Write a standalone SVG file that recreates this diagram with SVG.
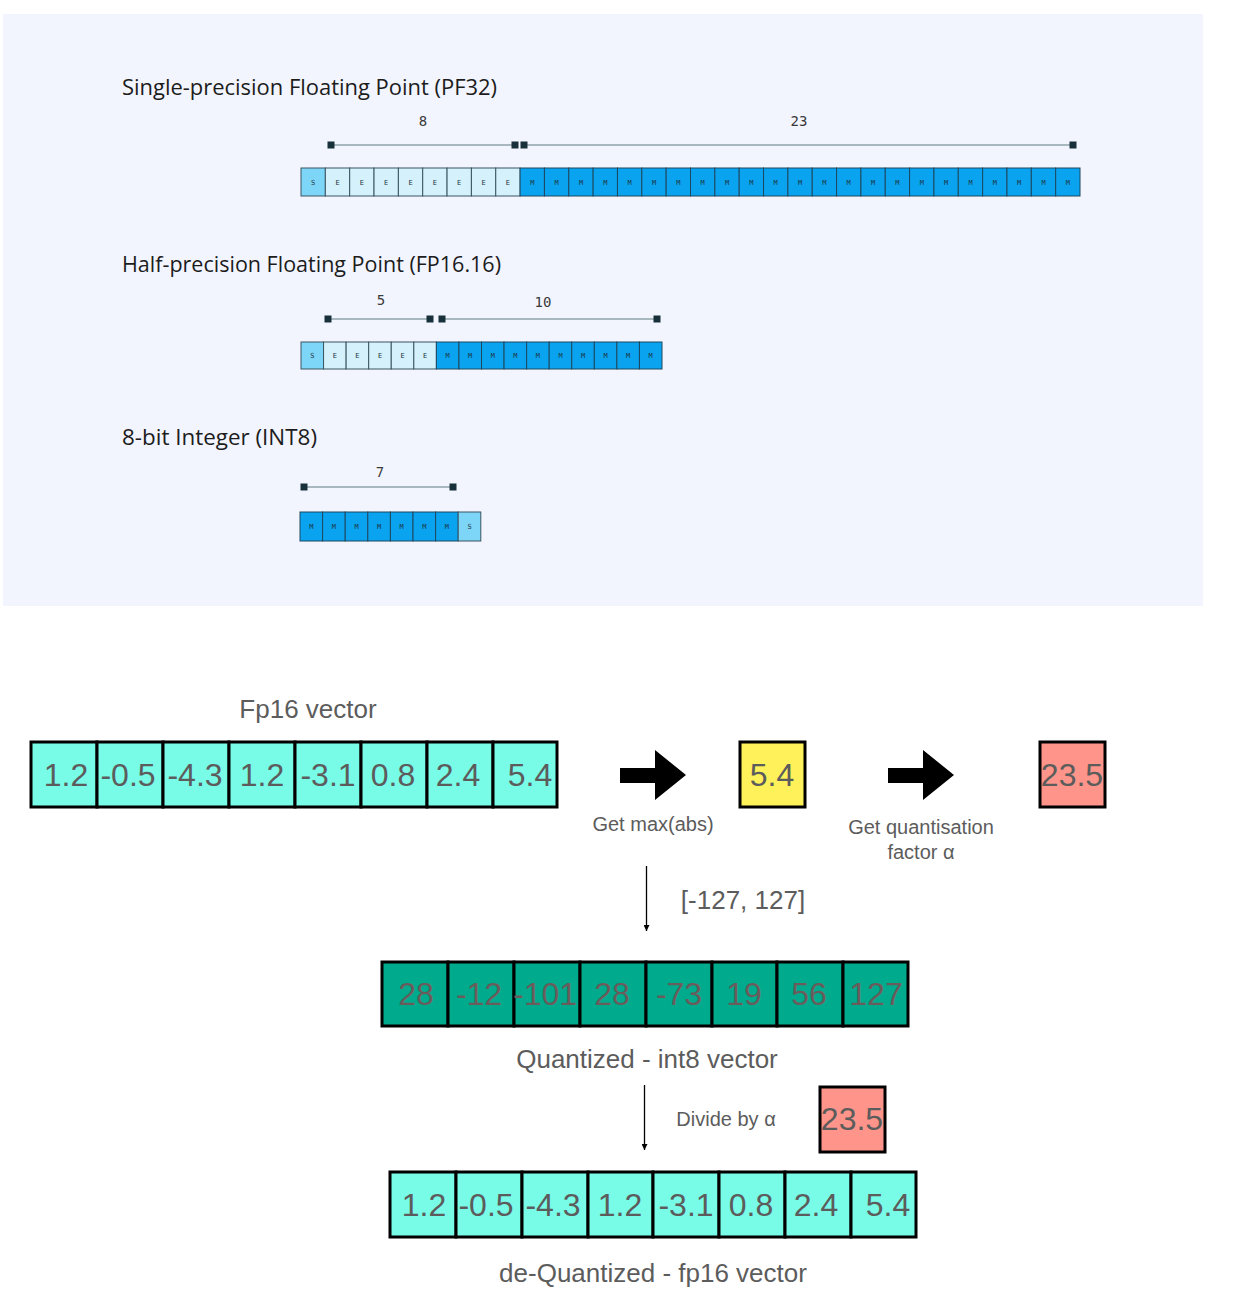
<svg xmlns="http://www.w3.org/2000/svg" width="1240" height="1298" viewBox="0 0 1240 1298">
<style>
.title{font-family:"Open Sans","Noto Sans",sans-serif;font-size:21px;font-weight:500;fill:#1c1c1c}
.dim{font-family:"DejaVu Sans Mono",monospace;font-size:14px;fill:#3a3a3a;text-anchor:middle}
.dl{stroke:#8fa3a8;stroke-width:1.5}
.mk{fill:#17303a}
.cS{fill:#7dd5f7;stroke:#3a5560;stroke-width:1}
.cE{fill:#d4f1fc;stroke:#3a5560;stroke-width:1}
.cM{fill:#0aa3ef;stroke:#1d4860;stroke-width:1}
.bl{font-family:"DejaVu Sans Mono",monospace;font-size:7px;fill:#1d3440;text-anchor:middle}
.vc{stroke:#000;stroke-width:3}
.fp{fill:#78fbe7}
.i8{fill:#00aa8c}
.num{font-family:"Liberation Sans",Arial,sans-serif;font-size:32px;fill:#5c5c5c;text-anchor:middle}
.num8{font-family:"Liberation Sans",Arial,sans-serif;font-size:32px;fill:#6b5c5c;text-anchor:middle}
.lbl{font-family:"Liberation Sans",Arial,sans-serif;font-size:26px;fill:#5c5c5c;text-anchor:middle}
.sl{font-family:"Liberation Sans",Arial,sans-serif;font-size:20px;fill:#5c5c5c;text-anchor:middle}
</style>
<defs>
<marker id="ah" viewBox="0 0 10 10" refX="10" refY="5" markerWidth="6" markerHeight="6" orient="auto" markerUnits="userSpaceOnUse">
<path d="M0,0 L10,5 L0,10 z" fill="#000"/>
</marker>
</defs>

<rect x="3" y="14" width="1200" height="592" fill="#f2f5fe"/>

<!-- PF32 -->
<g id="pf32">
<text class="title" x="122" y="95" textLength="375" lengthAdjust="spacingAndGlyphs">Single-precision Floating Point (PF32)</text>
<line class="dl" x1="331" y1="145" x2="515" y2="145"/>
<line class="dl" x1="524" y1="145" x2="1073" y2="145"/>
<rect class="mk" x="327.5" y="141.5" width="7" height="7"/>
<rect class="mk" x="511.5" y="141.5" width="7" height="7"/>
<rect class="mk" x="520.5" y="141.5" width="7" height="7"/>
<rect class="mk" x="1069.5" y="141.5" width="7" height="7"/>
<text class="dim" x="423" y="126">8</text>
<text class="dim" x="799" y="126">23</text>
<rect class="cS" x="301" y="168" width="24.34" height="28"/>
<rect class="cE" x="325.34" y="168" width="24.34" height="28"/>
<rect class="cE" x="349.69" y="168" width="24.34" height="28"/>
<rect class="cE" x="374.03" y="168" width="24.34" height="28"/>
<rect class="cE" x="398.38" y="168" width="24.34" height="28"/>
<rect class="cE" x="422.72" y="168" width="24.34" height="28"/>
<rect class="cE" x="447.06" y="168" width="24.34" height="28"/>
<rect class="cE" x="471.41" y="168" width="24.34" height="28"/>
<rect class="cE" x="495.75" y="168" width="24.34" height="28"/>
<rect class="cM" x="520.09" y="168" width="24.34" height="28"/>
<rect class="cM" x="544.44" y="168" width="24.34" height="28"/>
<rect class="cM" x="568.78" y="168" width="24.34" height="28"/>
<rect class="cM" x="593.13" y="168" width="24.34" height="28"/>
<rect class="cM" x="617.47" y="168" width="24.34" height="28"/>
<rect class="cM" x="641.81" y="168" width="24.34" height="28"/>
<rect class="cM" x="666.16" y="168" width="24.34" height="28"/>
<rect class="cM" x="690.5" y="168" width="24.34" height="28"/>
<rect class="cM" x="714.84" y="168" width="24.34" height="28"/>
<rect class="cM" x="739.19" y="168" width="24.34" height="28"/>
<rect class="cM" x="763.53" y="168" width="24.34" height="28"/>
<rect class="cM" x="787.88" y="168" width="24.34" height="28"/>
<rect class="cM" x="812.22" y="168" width="24.34" height="28"/>
<rect class="cM" x="836.56" y="168" width="24.34" height="28"/>
<rect class="cM" x="860.91" y="168" width="24.34" height="28"/>
<rect class="cM" x="885.25" y="168" width="24.34" height="28"/>
<rect class="cM" x="909.59" y="168" width="24.34" height="28"/>
<rect class="cM" x="933.94" y="168" width="24.34" height="28"/>
<rect class="cM" x="958.28" y="168" width="24.34" height="28"/>
<rect class="cM" x="982.63" y="168" width="24.34" height="28"/>
<rect class="cM" x="1006.97" y="168" width="24.34" height="28"/>
<rect class="cM" x="1031.31" y="168" width="24.34" height="28"/>
<rect class="cM" x="1055.66" y="168" width="24.34" height="28"/>
<text class="bl" x="313.2" y="184.5">S</text>
<text class="bl" x="337.5" y="184.5">E</text>
<text class="bl" x="361.9" y="184.5">E</text>
<text class="bl" x="386.2" y="184.5">E</text>
<text class="bl" x="410.5" y="184.5">E</text>
<text class="bl" x="434.9" y="184.5">E</text>
<text class="bl" x="459.2" y="184.5">E</text>
<text class="bl" x="483.6" y="184.5">E</text>
<text class="bl" x="507.9" y="184.5">E</text>
<text class="bl" x="532.3" y="184.5">M</text>
<text class="bl" x="556.6" y="184.5">M</text>
<text class="bl" x="581" y="184.5">M</text>
<text class="bl" x="605.3" y="184.5">M</text>
<text class="bl" x="629.6" y="184.5">M</text>
<text class="bl" x="654" y="184.5">M</text>
<text class="bl" x="678.3" y="184.5">M</text>
<text class="bl" x="702.7" y="184.5">M</text>
<text class="bl" x="727" y="184.5">M</text>
<text class="bl" x="751.4" y="184.5">M</text>
<text class="bl" x="775.7" y="184.5">M</text>
<text class="bl" x="800" y="184.5">M</text>
<text class="bl" x="824.4" y="184.5">M</text>
<text class="bl" x="848.7" y="184.5">M</text>
<text class="bl" x="873.1" y="184.5">M</text>
<text class="bl" x="897.4" y="184.5">M</text>
<text class="bl" x="921.8" y="184.5">M</text>
<text class="bl" x="946.1" y="184.5">M</text>
<text class="bl" x="970.5" y="184.5">M</text>
<text class="bl" x="994.8" y="184.5">M</text>
<text class="bl" x="1019.1" y="184.5">M</text>
<text class="bl" x="1043.5" y="184.5">M</text>
<text class="bl" x="1067.8" y="184.5">M</text>
</g>

<!-- FP16 -->
<g id="fp16">
<text class="title" x="122" y="272" textLength="379" lengthAdjust="spacingAndGlyphs">Half-precision Floating Point (FP16.16)</text>
<line class="dl" x1="328" y1="319" x2="430" y2="319"/>
<line class="dl" x1="442" y1="319" x2="657" y2="319"/>
<rect class="mk" x="324.5" y="315.5" width="7" height="7"/>
<rect class="mk" x="426.5" y="315.5" width="7" height="7"/>
<rect class="mk" x="438.5" y="315.5" width="7" height="7"/>
<rect class="mk" x="653.5" y="315.5" width="7" height="7"/>
<text class="dim" x="381" y="305">5</text>
<text class="dim" x="543" y="307">10</text>
<rect class="cS" x="301" y="342" width="22.56" height="27"/>
<rect class="cE" x="323.56" y="342" width="22.56" height="27"/>
<rect class="cE" x="346.13" y="342" width="22.56" height="27"/>
<rect class="cE" x="368.69" y="342" width="22.56" height="27"/>
<rect class="cE" x="391.25" y="342" width="22.56" height="27"/>
<rect class="cE" x="413.81" y="342" width="22.56" height="27"/>
<rect class="cM" x="436.38" y="342" width="22.56" height="27"/>
<rect class="cM" x="458.94" y="342" width="22.56" height="27"/>
<rect class="cM" x="481.5" y="342" width="22.56" height="27"/>
<rect class="cM" x="504.06" y="342" width="22.56" height="27"/>
<rect class="cM" x="526.63" y="342" width="22.56" height="27"/>
<rect class="cM" x="549.19" y="342" width="22.56" height="27"/>
<rect class="cM" x="571.75" y="342" width="22.56" height="27"/>
<rect class="cM" x="594.31" y="342" width="22.56" height="27"/>
<rect class="cM" x="616.88" y="342" width="22.56" height="27"/>
<rect class="cM" x="639.44" y="342" width="22.56" height="27"/>
<text class="bl" x="312.3" y="358">S</text>
<text class="bl" x="334.8" y="358">E</text>
<text class="bl" x="357.4" y="358">E</text>
<text class="bl" x="380" y="358">E</text>
<text class="bl" x="402.5" y="358">E</text>
<text class="bl" x="425.1" y="358">E</text>
<text class="bl" x="447.7" y="358">M</text>
<text class="bl" x="470.2" y="358">M</text>
<text class="bl" x="492.8" y="358">M</text>
<text class="bl" x="515.3" y="358">M</text>
<text class="bl" x="537.9" y="358">M</text>
<text class="bl" x="560.5" y="358">M</text>
<text class="bl" x="583" y="358">M</text>
<text class="bl" x="605.6" y="358">M</text>
<text class="bl" x="628.2" y="358">M</text>
<text class="bl" x="650.7" y="358">M</text>
</g>

<!-- INT8 -->
<g id="int8">
<text class="title" x="122" y="445" textLength="195" lengthAdjust="spacingAndGlyphs">8-bit Integer (INT8)</text>
<line class="dl" x1="304" y1="487" x2="453" y2="487"/>
<rect class="mk" x="300.5" y="483.5" width="7" height="7"/>
<rect class="mk" x="449.5" y="483.5" width="7" height="7"/>
<text class="dim" x="380" y="477">7</text>
<rect class="cM" x="300" y="512" width="22.6" height="29"/>
<rect class="cM" x="322.6" y="512" width="22.6" height="29"/>
<rect class="cM" x="345.2" y="512" width="22.6" height="29"/>
<rect class="cM" x="367.8" y="512" width="22.6" height="29"/>
<rect class="cM" x="390.4" y="512" width="22.6" height="29"/>
<rect class="cM" x="413" y="512" width="22.6" height="29"/>
<rect class="cM" x="435.6" y="512" width="22.6" height="29"/>
<rect class="cS" x="458.2" y="512" width="22.6" height="29"/>
<text class="bl" x="311.3" y="529">M</text>
<text class="bl" x="333.9" y="529">M</text>
<text class="bl" x="356.5" y="529">M</text>
<text class="bl" x="379.1" y="529">M</text>
<text class="bl" x="401.7" y="529">M</text>
<text class="bl" x="424.3" y="529">M</text>
<text class="bl" x="446.9" y="529">M</text>
<text class="bl" x="469.5" y="529">S</text>
</g>

<!-- Fp16 vector -->
<g id="fp16-vector">
<text class="lbl" x="308" y="718">Fp16 vector</text>
<rect class="fp vc" x="31" y="742" width="66" height="65"/>
<rect class="fp vc" x="97" y="742" width="66" height="65"/>
<rect class="fp vc" x="163" y="742" width="66" height="65"/>
<rect class="fp vc" x="229" y="742" width="66" height="65"/>
<rect class="fp vc" x="295" y="742" width="66" height="65"/>
<rect class="fp vc" x="361" y="742" width="66" height="65"/>
<rect class="fp vc" x="427" y="742" width="66" height="65"/>
<rect class="fp vc" x="493" y="742" width="64" height="65"/>
<text class="num" x="66" y="786">1.2</text>
<text class="num" x="128" y="786">-0.5</text>
<text class="num" x="195" y="786">-4.3</text>
<text class="num" x="262" y="786">1.2</text>
<text class="num" x="328" y="786">-3.1</text>
<text class="num" x="393" y="786">0.8</text>
<text class="num" x="458" y="786">2.4</text>
<text class="num" x="530" y="786">5.4</text>
</g>

<g id="max-abs">
<rect class="vc" x="740" y="742" width="65" height="65" fill="#fff159"/>
<text class="num" x="772" y="786">5.4</text>
</g>

<g id="alpha">
<rect class="vc" x="1040" y="742" width="65" height="65" fill="#ff958a"/>
<text class="num" x="1072" y="786">23.5</text>
</g>

<g id="int8-vector">
<rect class="i8 vc" x="382" y="962" width="66" height="64"/>
<rect class="i8 vc" x="448" y="962" width="66" height="64"/>
<rect class="i8 vc" x="514" y="962" width="66" height="64"/>
<rect class="i8 vc" x="580" y="962" width="66" height="64"/>
<rect class="i8 vc" x="646" y="962" width="66" height="64"/>
<rect class="i8 vc" x="712" y="962" width="65" height="64"/>
<rect class="i8 vc" x="777" y="962" width="66" height="64"/>
<rect class="i8 vc" x="843" y="962" width="65" height="64"/>
<text class="num8" x="416" y="1005">28</text>
<text class="num8" x="479" y="1005">-12</text>
<text class="num8" x="545" y="1005">-101</text>
<text class="num8" x="612" y="1005">28</text>
<text class="num8" x="679" y="1005">-73</text>
<text class="num8" x="744" y="1005">19</text>
<text class="num8" x="809" y="1005">56</text>
<text class="num8" x="876" y="1005">127</text>
<text class="lbl" x="647" y="1068">Quantized - int8 vector</text>
</g>

<g id="alpha-2">
<rect class="vc" x="820" y="1087" width="65" height="65" fill="#ff958a"/>
<text class="num" x="852" y="1130">23.5</text>
</g>

<g id="dequant-vector">
<rect class="fp vc" x="390" y="1172" width="66" height="65"/>
<rect class="fp vc" x="456" y="1172" width="66" height="65"/>
<rect class="fp vc" x="522" y="1172" width="66" height="65"/>
<rect class="fp vc" x="588" y="1172" width="65" height="65"/>
<rect class="fp vc" x="653" y="1172" width="66" height="65"/>
<rect class="fp vc" x="719" y="1172" width="66" height="65"/>
<rect class="fp vc" x="785" y="1172" width="66" height="65"/>
<rect class="fp vc" x="851" y="1172" width="65" height="65"/>
<text class="num" x="424" y="1216">1.2</text>
<text class="num" x="486" y="1216">-0.5</text>
<text class="num" x="553" y="1216">-4.3</text>
<text class="num" x="620" y="1216">1.2</text>
<text class="num" x="686" y="1216">-3.1</text>
<text class="num" x="751" y="1216">0.8</text>
<text class="num" x="816" y="1216">2.4</text>
<text class="num" x="888" y="1216">5.4</text>
<text class="lbl" x="653" y="1282">de-Quantized - fp16 vector</text>
</g>

<g id="connectors">
<polygon points="620,768 655,768 655,750 686,775 655,800 655,783 620,783" fill="#000"/>
<text class="sl" x="653" y="831">Get max(abs)</text>
<polygon points="888,768 923,768 923,750 954,775 923,800 923,783 888,783" fill="#000"/>
<text class="sl" x="921" y="834">Get quantisation</text>
<text class="sl" x="921" y="859">factor α</text>
<line x1="646.5" y1="866" x2="646.5" y2="931" stroke="#000" stroke-width="1.3" marker-end="url(#ah)"/>
<text class="lbl" x="743" y="909">[-127, 127]</text>
<line x1="644.5" y1="1085" x2="644.5" y2="1150" stroke="#000" stroke-width="1.3" marker-end="url(#ah)"/>
<text class="sl" x="726" y="1126">Divide by α</text>
</g>
</svg>
